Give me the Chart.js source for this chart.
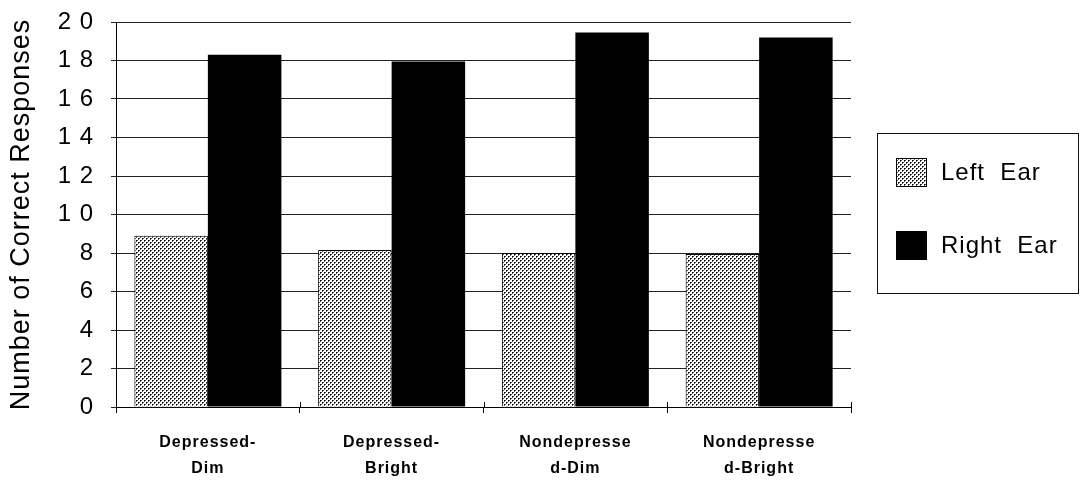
<!DOCTYPE html>
<html>
<head>
<meta charset="utf-8">
<script src="https://cdn.jsdelivr.net/npm/chart.js@4.4.1/dist/chart.umd.min.js"></script>
<style>
  html, body { margin: 0; padding: 0; background: #ffffff; }
  #wrap { width: 1081px; height: 485px; }
</style>
</head>
<body>
<div id="wrap"><canvas id="chart" width="1081" height="485"></canvas></div>
<script>
// Conditions (two-line labels) and the two ear series
const categories = [
  ['Depressed-', 'Dim'],
  ['Depressed-', 'Bright'],
  ['Nondepresse', 'd-Dim'],
  ['Nondepresse', 'd-Bright']
];
const leftEar = [8.9, 8.15, 8.0, 7.95];
const rightEar = [18.3, 17.95, 19.45, 19.2];
const seriesNames = ['Left  Ear', 'Right  Ear'];
const yTickLabels = ['0', '2', '4', '6', '8', '1 0', '1 2', '1 4', '1 6', '1 8', '2 0'];
const yTitle = 'Number of Correct Responses';

const FONT = '"Liberation Sans", Arial, Helvetica, sans-serif';

// Fine halftone fill for the left-ear bars
function makeDotPattern() {
  const c = document.createElement('canvas');
  c.width = 4; c.height = 4;
  const g = c.getContext('2d');
  g.fillStyle = '#ffffff';
  g.fillRect(0, 0, 4, 4);
  g.fillStyle = '#555555';
  g.fillRect(1, 0, 1, 1); g.fillRect(0, 1, 1, 1);
  g.fillRect(3, 2, 1, 1); g.fillRect(2, 3, 1, 1);
  g.fillStyle = '#000000';
  g.fillRect(0, 0, 1, 1); g.fillRect(2, 2, 1, 1);
  return g.createPattern(c, 'repeat');
}
const dotFill = makeDotPattern();

// Slightly wide letter spacing for all text
const spacingPlugin = {
  id: 'spacing',
  beforeLayout(chart) { chart.ctx.letterSpacing = '1px'; },
  beforeDraw(chart) { chart.ctx.letterSpacing = '1px'; }
};

// Small tick marks that cross the category axis
const crossTicks = {
  id: 'crossTicks',
  afterDraw(chart) {
    const x = chart.scales.x;
    const ctx = chart.ctx;
    const n = chart.data.labels.length;
    ctx.save();
    ctx.strokeStyle = '#000';
    ctx.lineWidth = 1;
    ctx.beginPath();
    for (let i = 0; i <= n; i++) {
      const px = Math.round(x.getPixelForValue(i - 0.5)) + 0.5;
      ctx.moveTo(px, x.top - 5);
      ctx.lineTo(px, x.top);
    }
    ctx.stroke();
    ctx.restore();
  }
};

// Boxed legend drawn to the right of the plot
const boxLegend = {
  id: 'boxLegend',
  afterDraw(chart) {
    const ctx = chart.ctx;
    const ds = chart.data.datasets;
    ctx.save();
    ctx.letterSpacing = '1px';
    ctx.strokeStyle = '#111';
    ctx.lineWidth = 1;
    ctx.strokeRect(877.5, 133.5, 201, 160);
    const rows = [172, 245];
    ds.forEach((d, i) => {
      const cy = rows[i];
      ctx.fillStyle = d.backgroundColor;
      ctx.fillRect(896, cy - 14, 31, 29);
      ctx.strokeStyle = '#000';
      ctx.strokeRect(896.5, cy - 13.5, 30, 28);
      ctx.fillStyle = '#000';
      ctx.font = '24px ' + FONT;
      ctx.textAlign = 'left';
      ctx.textBaseline = 'middle';
      ctx.fillText(d.label, 941, cy + 1);
    });
    ctx.restore();
  }
};

new Chart(document.getElementById('chart'), {
  type: 'bar',
  data: {
    labels: categories,
    datasets: [
      {
        label: seriesNames[0],
        data: leftEar,
        backgroundColor: dotFill,
        borderColor: '#000',
        borderWidth: 1,
        borderSkipped: 'bottom'
      },
      {
        label: seriesNames[1],
        data: rightEar,
        backgroundColor: '#000000',
        borderColor: '#000',
        borderWidth: 0
      }
    ]
  },
  options: {
    responsive: false,
    animation: false,
    devicePixelRatio: 1,
    layout: { padding: { left: 0, right: 230, top: 22, bottom: 0 } },
    datasets: { bar: { categoryPercentage: 0.8, barPercentage: 1.0 } },
    plugins: {
      legend: { display: false },
      tooltip: { enabled: false }
    },
    scales: {
      x: {
        grid: {
          display: true,
          drawOnChartArea: false,
          drawTicks: true,
          tickLength: 6,
          color: '#000'
        },
        border: { display: true, color: '#000', width: 1 },
        ticks: {
          color: '#000',
          font: { family: FONT, size: 16, weight: 'bold', lineHeight: 1.625 },
          padding: 17,
          maxRotation: 0,
          autoSkip: false
        },
        afterFit(scale) { scale.height = 78; }
      },
      y: {
        min: 0,
        max: 20,
        grid: {
          color: '#222',
          lineWidth: 1,
          tickLength: 5,
          drawTicks: true
        },
        border: { display: true, color: '#000', width: 1 },
        ticks: {
          stepSize: 2,
          color: '#000',
          padding: 17,
          font: { family: FONT, size: 24 },
          callback: (v) => yTickLabels[Math.round(v / 2)]
        },
        title: {
          display: true,
          text: yTitle,
          color: '#000',
          font: { family: FONT, size: 27 },
          padding: { top: 5, bottom: 0 }
        },
        afterFit(scale) {
          scale.width = 116;
          scale.paddingTop = 0;
          scale.paddingBottom = 0;
        }
      }
    }
  },
  plugins: [spacingPlugin, crossTicks, boxLegend]
});
</script>
</body>
</html>
